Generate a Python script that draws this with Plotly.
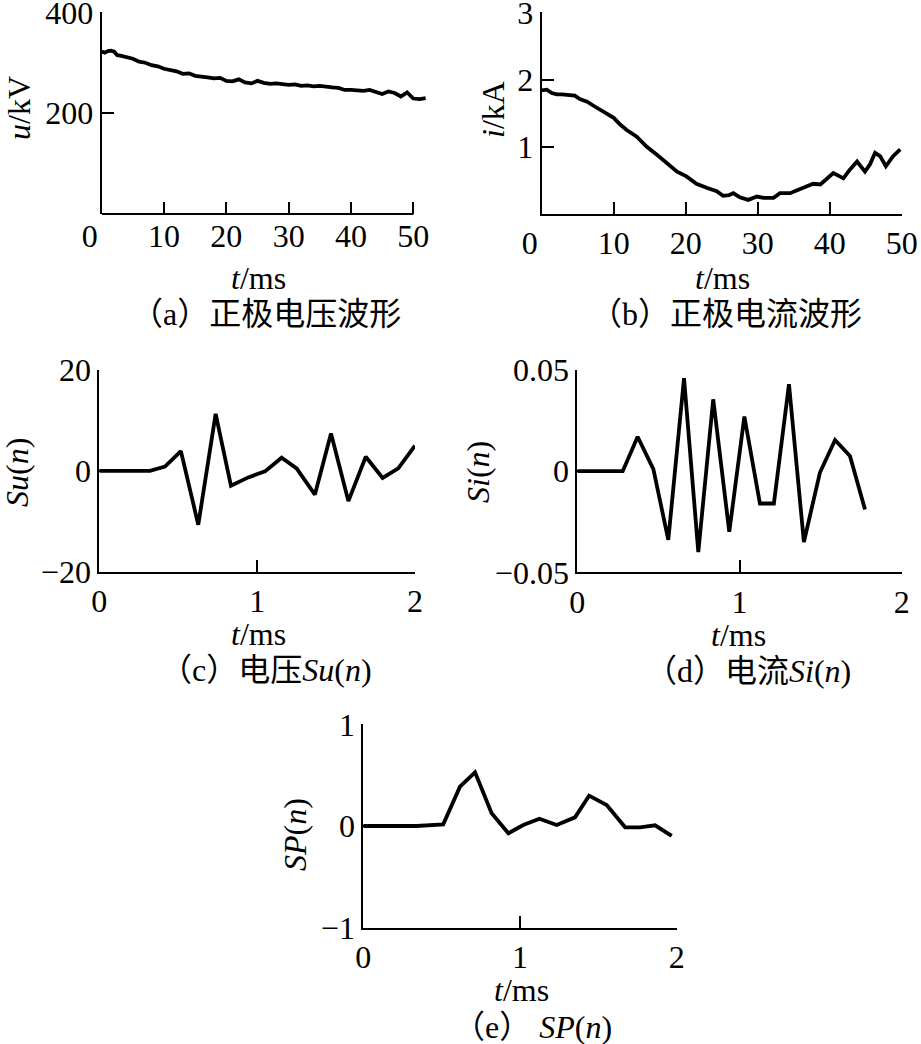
import plotly.graph_objects as go

# ---------------- data ----------------
# (a) positive-pole voltage waveform
t_a = [0, 0.5, 1, 1.5, 2, 2.5, 3, 4, 5, 6, 7, 8, 9, 10, 11, 12, 13, 14, 15, 16, 17, 18, 19, 20,
       21, 22, 23, 24, 25, 26, 27, 28, 29, 30, 31, 32, 33, 34, 35, 36, 37, 38, 39, 40, 41, 42,
       43, 44, 45, 46, 47, 48, 48.5, 49, 49.5, 50, 51, 52]
u_a = [322, 320, 323, 324, 322, 315, 314, 311, 308, 302, 300, 295, 293, 288, 285, 283, 278, 279,
       274, 273, 271, 269, 270, 264, 263, 267, 261, 259, 264, 260, 258, 259, 257, 256, 257, 254,
       255, 253, 254, 252, 251, 250, 246, 246, 245, 244, 246, 241, 238, 243, 240, 233, 236, 241,
       235, 229, 228, 230]

# (b) positive-pole current waveform
t_b = [0, 0.7, 1.4, 2.1, 2.8, 3.5, 4.2, 4.6, 5.3, 6.3, 7.2, 8.1, 9.0, 10.0, 10.9, 11.8, 13.2,
       14.6, 16.0, 17.4, 18.8, 20.1, 21.5, 22.9, 24.3, 25.2, 26.0, 26.6, 27.5, 28.7, 29.9, 30.8,
       32.2, 33.1, 34.5, 35.4, 36.8, 37.7, 38.7, 39.6, 40.5, 41.4, 41.9, 42.8, 43.8, 44.9, 45.6,
       46.3, 47.0, 47.8, 48.8, 49.8]
i_b = [1.84, 1.85, 1.80, 1.78, 1.78, 1.77, 1.77, 1.76, 1.71, 1.67, 1.61, 1.55, 1.50, 1.43, 1.33,
       1.25, 1.15, 1.00, 0.88, 0.76, 0.63, 0.56, 0.45, 0.39, 0.34, 0.27, 0.28, 0.31, 0.25, 0.21,
       0.26, 0.24, 0.24, 0.31, 0.31, 0.35, 0.41, 0.45, 0.44, 0.53, 0.61, 0.56, 0.53, 0.66, 0.78,
       0.63, 0.74, 0.91, 0.86, 0.71, 0.86, 0.96]

# (c) voltage Su(n)
t_c = [0, 0.105, 0.211, 0.321, 0.416, 0.517, 0.627, 0.737, 0.834, 0.944, 1.05, 1.155, 1.25,
       1.366, 1.468, 1.578, 1.688, 1.795, 1.894, 2.0]
su_c = [0, 0, 0, 0, 0.85, 3.9, -10.7, 11.3, -2.95, -1.3, -0.1, 2.6, 0.5, -4.7, 7.4, -6.0, 2.8,
        -1.4, 0.5, 5.0]

# (d) current Si(n)
t_d = [0, 0.093, 0.187, 0.28, 0.372, 0.469, 0.561, 0.658, 0.746, 0.838, 0.937, 1.03, 1.126,
       1.212, 1.305, 1.397, 1.496, 1.589, 1.681, 1.774]
si_d = [0, 0, 0, 0, 0.017, 0.001, -0.034, 0.046, -0.040, 0.0355, -0.030, 0.027, -0.016, -0.016,
        0.043, -0.035, -0.0007, 0.0154, 0.0075, -0.019]

# (e) SP(n)
t_e = [0, 0.34, 0.51, 0.617, 0.713, 0.819, 0.926, 1.021, 1.124, 1.234, 1.351, 1.441, 1.553,
       1.671, 1.766, 1.862, 1.968]
sp_e = [0, 0, 0.016, 0.387, 0.528, 0.125, -0.072, 0.01, 0.072, 0.01, 0.085, 0.298, 0.207,
        -0.013, -0.013, 0.007, -0.098]

# tick labels
xt_a = [0, 10, 20, 30, 40, 50]
xt_a_text = ["0\u00a0\u00a0\u00a0", "10", "20", "30", "40", "50"]
yt_a = [200, 400]
yt_b = [1, 2, 3]
xt_s = [0, 1, 2]
yt_c = [-20, 0, 20]
yt_c_text = ["\u221220", "0", "20"]
yt_d = [-0.05, 0, 0.05]
yt_d_text = ["\u22120.05", "0", "0.05"]
yt_e = [-1, 0, 1]
yt_e_text = ["\u22121", "0", "1"]

# ---------------- layout helpers ----------------
W, H = 921, 1044
FONT = "Liberation Serif, Noto Sans CJK SC, serif"
FS = 32


def px(x):
    return x / W


def py(y):
    return 1 - y / H


def axis(domain, rng, tickvals, ticktext=None, showline=True, anchor=None):
    d = dict(domain=domain, range=rng, tickvals=tickvals, showgrid=False, zeroline=False,
             showline=showline, linecolor="black", linewidth=2, ticks="inside", ticklen=12,
             tickwidth=2, tickcolor="black", fixedrange=True, automargin=False,
             ticklabeloverflow="allow",
             tickfont=dict(family=FONT, size=FS, color="black"), anchor=anchor)
    if ticktext is not None:
        d["ticktext"] = ticktext
    return d


fig = go.Figure()
line = dict(color="black", width=3.8)
fig.add_trace(go.Scatter(x=t_a, y=u_a, mode="lines", line=line, xaxis="x", yaxis="y"))
fig.add_trace(go.Scatter(x=t_b, y=i_b, mode="lines", line=line, xaxis="x2", yaxis="y2"))
fig.add_trace(go.Scatter(x=t_c, y=su_c, mode="lines", line=line, xaxis="x3", yaxis="y3"))
fig.add_trace(go.Scatter(x=t_d, y=si_d, mode="lines", line=line, xaxis="x4", yaxis="y4"))
fig.add_trace(go.Scatter(x=t_e, y=sp_e, mode="lines", line=line, xaxis="x5", yaxis="y5"))

# panel a x-domain: 0 at 101.7px, 6.233 px per ms, range to 52
fig.update_layout(
    xaxis=axis([px(101.7), px(425.8)], [0, 52], xt_a, xt_a_text, showline=False, anchor="y"),
    yaxis=axis([py(214), py(12.3)], [0, 400], yt_a, anchor="x"),
    xaxis2=axis([px(541.7), px(901.7)], [0, 50], xt_a, xt_a_text, anchor="y2"),
    yaxis2=axis([py(214), py(12.3)], [0, 3], yt_b, anchor="x2"),
    xaxis3=axis([px(99.3), px(415)], [0, 2], xt_s, anchor="y3"),
    yaxis3=axis([py(571.7), py(370)], [-20, 20], yt_c, yt_c_text, anchor="x3"),
    xaxis4=axis([px(577.3), px(901.7)], [0, 2], xt_s, anchor="y4"),
    yaxis4=axis([py(572.3), py(370)], [-0.05, 0.05], yt_d, yt_d_text, anchor="x4"),
    xaxis5=axis([px(363.3), px(676.7)], [0, 2], xt_s, anchor="y5"),
    yaxis5=axis([py(927.7), py(724.3)], [-1, 1], yt_e, yt_e_text, anchor="x5"),
)

# bottom axis line of panel a ends at the 50 ms tick
fig.add_shape(type="line", xref="x", yref="y domain", x0=0, x1=50, y0=0, y1=0,
              line=dict(color="black", width=2))


def ann(text, x, y, angle=0, size=FS):
    fig.add_annotation(text=text, x=px(x), y=py(y), xref="paper", yref="paper",
                       xanchor="center", yanchor="middle", showarrow=False, textangle=angle,
                       font=dict(family=FONT, size=size, color="black"))


# x-axis titles
ann("<i>t</i>/ms", 258, 278)
ann("<i>t</i>/ms", 722, 278)
ann("<i>t</i>/ms", 258, 634)
ann("<i>t</i>/ms", 738, 635)
ann("<i>t</i>/ms", 521, 990)
# y-axis titles
ann("<i>u</i>/kV", 19, 108, -90)
ann("<i>i</i>/kA", 493, 110, -90)
ann("<i>Su</i>(<i>n</i>)", 17, 473, -90)
ann("<i>Si</i>(<i>n</i>)", 478, 472, -90)
ann("<i>SP</i>(<i>n</i>)", 295, 835, -90)
# panel captions
ann("（a）正极电压波形", 266, 314)
ann("（b）正极电流波形", 726, 314)
ann("（c）电压<i>Su</i>(<i>n</i>)", 266, 670)
ann("（d）电流<i>Si</i>(<i>n</i>)", 748, 671)
ann("（e） <i>SP</i>(<i>n</i>)", 532, 1027)

fig.update_layout(width=W, height=H, margin=dict(l=0, r=0, t=0, b=0), showlegend=False,
                  paper_bgcolor="white", plot_bgcolor="white")

# remove the default 8 px page margin so the figure fills the window exactly
fig.write_html("out.html", config={"displayModeBar": False},
               post_script="document.body.style.margin='0';")
